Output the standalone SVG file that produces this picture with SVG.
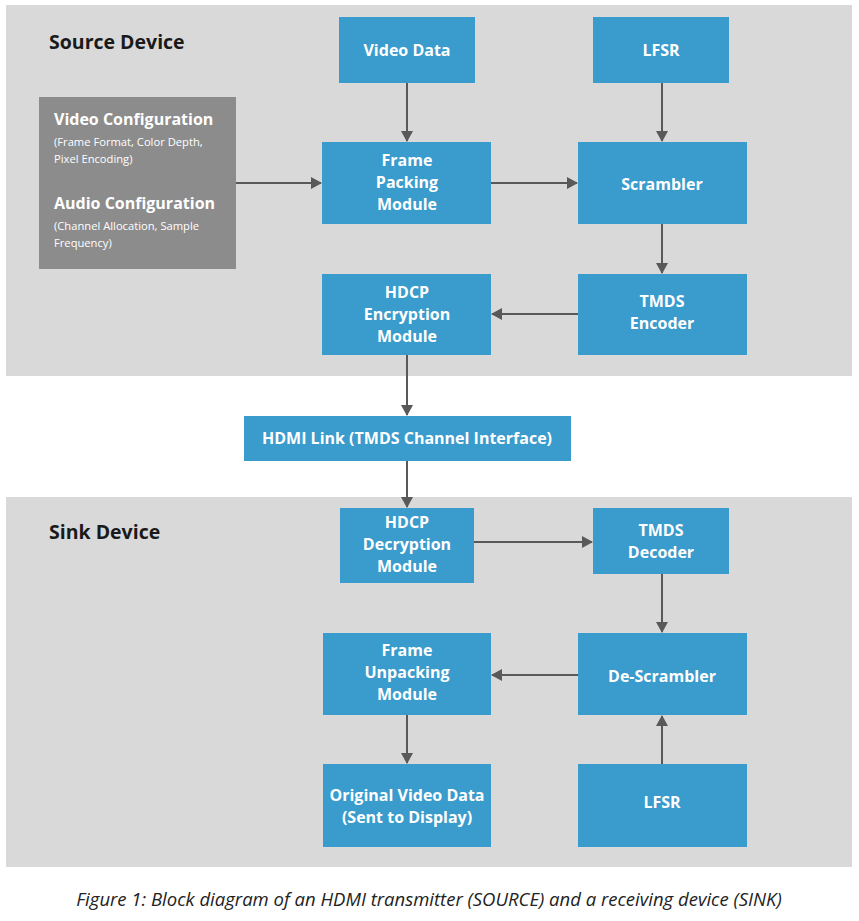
<svg xmlns="http://www.w3.org/2000/svg" width="859" height="921" viewBox="0 0 859 921">
<defs>
<marker id="ah" markerWidth="11" markerHeight="12" refX="10" refY="6" orient="auto" markerUnits="userSpaceOnUse">
<path d="M0,0 L11,6 L0,12 z" fill="#595959"/>
</marker>
<style>
.panel{fill:#d9d9d9}
.blk{fill:#3a9bcd}
.cfg{fill:#8c8c8c}
.t{font-family:"Open Sans","Noto Sans",sans-serif;font-weight:bold;font-size:16px;fill:#ffffff;text-anchor:middle}
.h{font-family:"Open Sans","Noto Sans",sans-serif;font-weight:bold;font-size:19.5px;fill:#1a1a1a}
.ch{font-family:"Open Sans","Noto Sans",sans-serif;font-weight:bold;font-size:16px;fill:#ffffff}
.cs{font-family:"Open Sans","Noto Sans",sans-serif;font-size:11.2px;fill:#ffffff}
.cap{font-family:"Open Sans","Noto Sans",sans-serif;font-style:italic;font-size:18.5px;fill:#222222;text-anchor:middle}
.c{stroke:#595959;stroke-width:2;fill:none;marker-end:url(#ah)}
</style>
</defs>
<rect x="0" y="0" width="859" height="921" fill="#ffffff"/>
<rect class="panel" x="6" y="5" width="846" height="371"/>
<rect class="panel" x="6" y="497" width="846" height="370"/>
<text class="h" x="49" y="49">Source Device</text>
<text class="h" x="49" y="539">Sink Device</text>

<g id="config">
<rect class="cfg" x="39" y="97" width="197" height="172"/>
<text class="ch" x="54" y="125">Video Configuration</text>
<text class="cs" x="54" y="146">(Frame Format, Color Depth,</text>
<text class="cs" x="54" y="163">Pixel Encoding)</text>
<text class="ch" x="54" y="209">Audio Configuration</text>
<text class="cs" x="54" y="230">(Channel Allocation, Sample</text>
<text class="cs" x="54" y="247">Frequency)</text>
</g>
<g id="video-data"><rect class="blk" x="339" y="17" width="136" height="66"/><text class="t" x="407" y="56">Video Data</text></g>
<g id="lfsr-src"><rect class="blk" x="593" y="17" width="136" height="66"/><text class="t" x="661" y="56">LFSR</text></g>
<g id="frame-packing"><rect class="blk" x="322" y="142" width="169" height="82"/><text class="t" x="407" y="166">Frame</text><text class="t" x="407" y="188">Packing</text><text class="t" x="407" y="210">Module</text></g>
<g id="scrambler"><rect class="blk" x="578" y="142" width="169" height="82"/><text class="t" x="662" y="190">Scrambler</text></g>
<g id="hdcp-enc"><rect class="blk" x="322" y="274" width="169" height="81"/><text class="t" x="407" y="298">HDCP</text><text class="t" x="407" y="320">Encryption</text><text class="t" x="407" y="342">Module</text></g>
<g id="tmds-enc"><rect class="blk" x="578" y="274" width="169" height="81"/><text class="t" x="662" y="307">TMDS</text><text class="t" x="662" y="329">Encoder</text></g>
<g id="hdmi-link"><rect class="blk" x="244" y="416" width="327" height="45"/><text class="t" x="407" y="444">HDMI Link (TMDS Channel Interface)</text></g>
<g id="hdcp-dec"><rect class="blk" x="340" y="508" width="134" height="75"/><text class="t" x="407" y="528">HDCP</text><text class="t" x="407" y="550">Decryption</text><text class="t" x="407" y="572">Module</text></g>
<g id="tmds-dec"><rect class="blk" x="593" y="508" width="136" height="66"/><text class="t" x="661" y="536">TMDS</text><text class="t" x="661" y="558">Decoder</text></g>
<g id="frame-unpacking"><rect class="blk" x="323" y="633" width="168" height="82"/><text class="t" x="407" y="656">Frame</text><text class="t" x="407" y="678">Unpacking</text><text class="t" x="407" y="700">Module</text></g>
<g id="de-scrambler"><rect class="blk" x="578" y="633" width="169" height="82"/><text class="t" x="662" y="682">De-Scrambler</text></g>
<g id="original-video"><rect class="blk" x="323" y="764" width="168" height="83"/><text class="t" x="407" y="801">Original Video Data</text><text class="t" x="407" y="823">(Sent to Display)</text></g>
<g id="lfsr-sink"><rect class="blk" x="578" y="764" width="169" height="83"/><text class="t" x="662" y="808">LFSR</text></g>

<g id="connectors">
<line class="c" x1="407" y1="83" x2="407" y2="141"/>
<line class="c" x1="662" y1="83" x2="662" y2="141"/>
<line class="c" x1="236" y1="183" x2="321" y2="183"/>
<line class="c" x1="491" y1="183" x2="577" y2="183"/>
<line class="c" x1="662" y1="224" x2="662" y2="273"/>
<line class="c" x1="578" y1="314" x2="492" y2="314"/>
<line class="c" x1="407" y1="355" x2="407" y2="415"/>
<line class="c" x1="407" y1="461" x2="407" y2="507"/>
<line class="c" x1="474" y1="542" x2="592" y2="542"/>
<line class="c" x1="662" y1="574" x2="662" y2="632"/>
<line class="c" x1="578" y1="675" x2="492" y2="675"/>
<line class="c" x1="407" y1="715" x2="407" y2="763"/>
<line class="c" x1="662" y1="764" x2="662" y2="716"/>
</g>
<text class="cap" x="429" y="906">Figure 1: Block diagram of an HDMI transmitter (SOURCE) and a receiving device (SINK)</text>
</svg>
